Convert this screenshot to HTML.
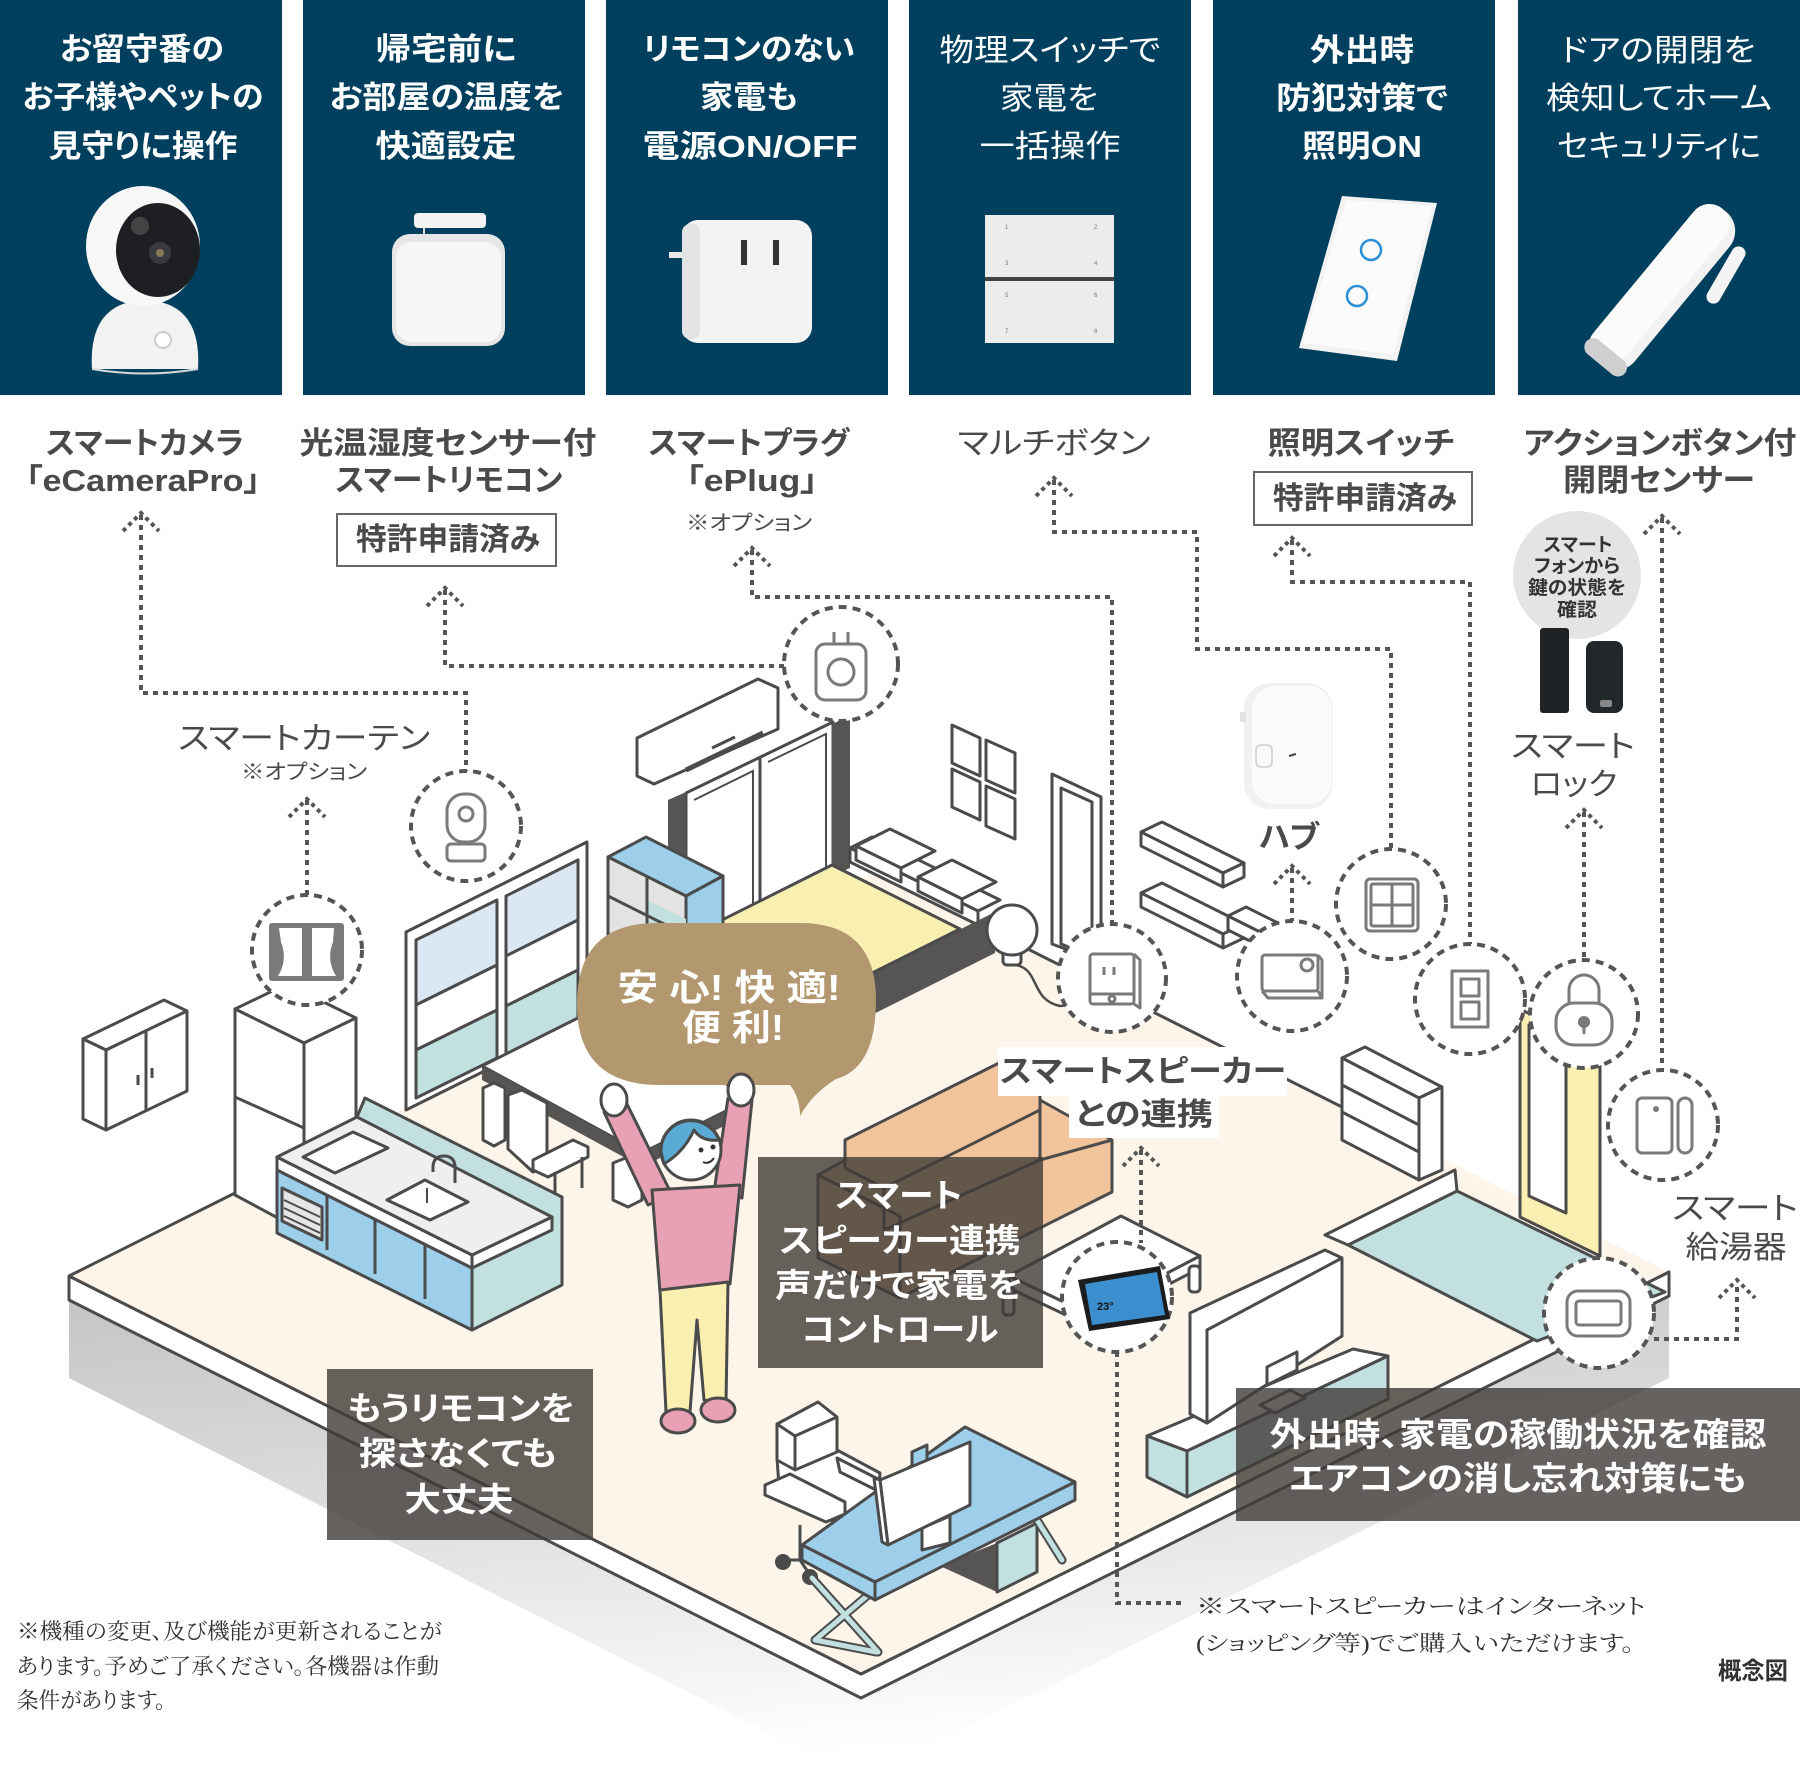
<!DOCTYPE html>
<html lang="ja"><head><meta charset="utf-8">
<style>
html,body{margin:0;padding:0;background:#fff;}
svg{display:block;}
text{font-family:"Liberation Sans","Noto Sans CJK JP",sans-serif;font-feature-settings:"palt";}
.pt{fill:#fff;font-size:31px;font-weight:700;text-anchor:middle;}
.pn{fill:#fff;font-size:31px;font-weight:400;text-anchor:middle;}
.lb{fill:#4a4a4a;font-size:31px;font-weight:700;text-anchor:middle;}
.ln{fill:#4a4a4a;font-size:31px;font-weight:400;text-anchor:middle;}
.sm{fill:#4a4a4a;font-size:21px;font-weight:400;text-anchor:middle;}
.bx{fill:#fff;font-size:33px;font-weight:700;text-anchor:middle;}
.sr{font-family:"Liberation Serif","Noto Serif CJK SC",serif;fill:#333;font-size:22px;}
.o{stroke:#4b4b4b;stroke-width:3;stroke-linejoin:round;}
.dl{fill:none;stroke:#555;stroke-width:4;stroke-dasharray:5 5;}
.ah{fill:none;stroke:#555;stroke-width:4;stroke-dasharray:4 4;}
.dc{fill:#fff;stroke:#555;stroke-width:4;stroke-dasharray:8 6;}
.ic{fill:none;stroke:#7a7a7a;stroke-width:3;stroke-linejoin:round;}
</style></head><body>
<svg width="1800" height="1780" viewBox="0 0 1800 1780" xmlns="http://www.w3.org/2000/svg">
<defs>
<linearGradient id="sh" x1="0" y1="0" x2="0.2" y2="1">
<stop offset="0" stop-color="#c4c4c4"/><stop offset="0.45" stop-color="#dcdcdc"/><stop offset="1" stop-color="#ffffff"/>
</linearGradient>
</defs>

<!-- ===== TOP PANELS ===== -->
<rect x="0" y="0" width="282" height="395" fill="#00405e"/>
<rect x="303" y="0" width="282" height="395" fill="#00405e"/>
<rect x="606" y="0" width="282" height="395" fill="#00405e"/>
<rect x="909" y="0" width="282" height="395" fill="#00405e"/>
<rect x="1213" y="0" width="282" height="395" fill="#00405e"/>
<rect x="1518" y="0" width="282" height="395" fill="#00405e"/>

<text class="pt" x="142" y="60" textLength="164" lengthAdjust="spacingAndGlyphs">お留守番の</text>
<text class="pt" x="143" y="108" textLength="241" lengthAdjust="spacingAndGlyphs">お子様やペットの</text>
<text class="pt" x="143" y="157" textLength="189" lengthAdjust="spacingAndGlyphs">見守りに操作</text>

<text class="pt" x="446" y="60" textLength="141" lengthAdjust="spacingAndGlyphs">帰宅前に</text>
<text class="pt" x="447" y="108" textLength="235" lengthAdjust="spacingAndGlyphs">お部屋の温度を</text>
<text class="pt" x="446" y="157" textLength="141" lengthAdjust="spacingAndGlyphs">快適設定</text>

<text class="pt" x="749" y="60" textLength="212" lengthAdjust="spacingAndGlyphs">リモコンのない</text>
<text class="pt" x="749" y="108" textLength="98" lengthAdjust="spacingAndGlyphs">家電も</text>
<text class="pt" x="750" y="157" textLength="215" lengthAdjust="spacingAndGlyphs">電源ON/OFF</text>

<text class="pn" x="1050" y="61" textLength="221" lengthAdjust="spacingAndGlyphs">物理スイッチで</text>
<text class="pn" x="1049" y="109" textLength="98" lengthAdjust="spacingAndGlyphs">家電を</text>
<text class="pn" x="1050" y="157" textLength="141" lengthAdjust="spacingAndGlyphs">一括操作</text>

<text class="pt" x="1362" y="61" textLength="104" lengthAdjust="spacingAndGlyphs">外出時</text>
<text class="pt" x="1362" y="109" textLength="172" lengthAdjust="spacingAndGlyphs">防犯対策で</text>
<text class="pt" x="1362" y="157" textLength="120" lengthAdjust="spacingAndGlyphs">照明ON</text>

<text class="pn" x="1658" y="61" textLength="195" lengthAdjust="spacingAndGlyphs">ドアの開閉を</text>
<text class="pn" x="1659" y="109" textLength="226" lengthAdjust="spacingAndGlyphs">検知してホーム</text>
<text class="pn" x="1659" y="157" textLength="204" lengthAdjust="spacingAndGlyphs">セキュリティに</text>

<!-- product: camera -->
<path d="M92,369 Q88,302 145,300 Q202,302 198,369 Z" fill="#f2f2f2"/>
<path d="M92,369 Q145,378 198,369" fill="none" stroke="#d8d8d8" stroke-width="2"/>
<circle cx="163" cy="340" r="8" fill="#fff" stroke="#ccc" stroke-width="2"/>
<ellipse cx="143" cy="246" rx="57" ry="60" fill="#f7f7f7"/>
<ellipse cx="158" cy="250" rx="42" ry="47" fill="#1e1f22"/>
<circle cx="160" cy="253" r="11" fill="#3a3a3e"/>
<circle cx="160" cy="253" r="4" fill="#8a7a5a"/>
<circle cx="140" cy="226" r="9" fill="#444"/>
<!-- product: remote sensor -->
<rect x="414" y="213" width="72" height="15" rx="4" fill="#f4f4f4"/>
<line x1="424" y1="228" x2="424" y2="240" stroke="#ddd" stroke-width="2"/>
<rect x="392" y="234" width="113" height="112" rx="18" fill="#e6e6e6"/>
<rect x="396" y="242" width="105" height="100" rx="16" fill="#f6f6f6"/>
<!-- product: plug -->
<rect x="669" y="252" width="15" height="6" fill="#e8e8e8"/>
<rect x="682" y="220" width="130" height="123" rx="16" fill="#f3f3f3"/>
<rect x="682" y="224" width="18" height="115" rx="8" fill="#e3e3e3"/>
<rect x="741" y="240" width="6" height="25" fill="#333"/>
<rect x="773" y="240" width="6" height="25" fill="#333"/>
<!-- product: multi button -->
<rect x="985" y="215" width="129" height="128" fill="#ececec"/>
<rect x="985" y="277" width="129" height="4" fill="#444"/>
<g fill="#777" font-size="6" font-family="Liberation Sans,sans-serif">
<text x="1005" y="229">1</text><text x="1094" y="229">2</text><text x="1005" y="265">3</text><text x="1094" y="265">4</text>
<text x="1005" y="297">5</text><text x="1094" y="297">6</text><text x="1005" y="333">7</text><text x="1094" y="333">8</text></g>
<!-- product: light switch -->
<polygon points="1342,196 1437,203 1397,361 1299,348" fill="#f2f2f2"/>
<polygon points="1346,200 1432,206 1393,354 1303,343" fill="#fbfbfb"/>
<circle cx="1371" cy="250" r="10" fill="none" stroke="#2a8fd6" stroke-width="2.5"/>
<circle cx="1357" cy="296" r="10" fill="none" stroke="#2a8fd6" stroke-width="2.5"/>
<!-- product: door sensor -->
<g transform="translate(1663,288) rotate(-50.4)">
<rect x="-99" y="-25" width="198" height="50" rx="25" fill="#f2f2f2"/>
<rect x="-99" y="-25" width="198" height="40" rx="20" fill="#fbfbfb"/>
<rect x="-99" y="-25" width="18" height="50" rx="9" fill="#cfcfcf"/>
</g>
<g transform="translate(1726,275) rotate(-60)">
<rect x="-32" y="-7" width="64" height="14" rx="7" fill="#f4f4f4"/>
</g>

<!-- product labels -->
<text class="lb" x="145" y="454" textLength="198" lengthAdjust="spacingAndGlyphs">スマートカメラ</text>
<text class="lb" x="143" y="491" textLength="235" lengthAdjust="spacingAndGlyphs">「eCameraPro」</text>
<text class="lb" x="448" y="454" textLength="297" lengthAdjust="spacingAndGlyphs">光温湿度センサー付</text>
<text class="lb" x="449" y="491" textLength="227" lengthAdjust="spacingAndGlyphs">スマートリモコン</text>
<rect x="337" y="514" width="219" height="52" fill="#fff" stroke="#666" stroke-width="2"/>
<text class="lb" x="448" y="550" font-size="29" textLength="184" lengthAdjust="spacingAndGlyphs">特許申請済み</text>
<text class="lb" x="749" y="454" textLength="201" lengthAdjust="spacingAndGlyphs">スマートプラグ</text>
<text class="lb" x="752" y="491" textLength="132" lengthAdjust="spacingAndGlyphs">「ePlug」</text>
<text class="sm" x="749" y="530" textLength="126" lengthAdjust="spacingAndGlyphs">※オプション</text>
<text class="ln" x="1054" y="454" textLength="193" lengthAdjust="spacingAndGlyphs">マルチボタン</text>
<text class="lb" x="1361" y="454" textLength="187" lengthAdjust="spacingAndGlyphs">照明スイッチ</text>
<rect x="1254" y="472" width="218" height="53" fill="#fff" stroke="#666" stroke-width="2"/>
<text class="lb" x="1365" y="509" font-size="29" textLength="184" lengthAdjust="spacingAndGlyphs">特許申請済み</text>
<text class="lb" x="1660" y="454" textLength="273" lengthAdjust="spacingAndGlyphs">アクションボタン付</text>
<text class="lb" x="1659" y="491" textLength="192" lengthAdjust="spacingAndGlyphs">開閉センサー</text>

<!-- ===== FLOOR ===== -->
<polygon points="69,1290 861,1690 1669,1288 1669,1378 861,1780 69,1378" fill="url(#sh)"/>
<polygon points="69,1276 861,1674 1669,1272 1669,1296 861,1698 69,1300" fill="#fff" class="o"/>
<polygon points="69,1276 874,872 1669,1272 861,1674" fill="#fdf5ea"/>
<polyline points="69,1276 861,1674 1669,1272" fill="none" class="o"/>
<line x1="69" y1="1276" x2="235" y2="1193" class="o"/>
<line x1="1000" y1="935" x2="1342" y2="1107" class="o"/>
<!-- genkan -->
<polygon points="1348,1245 1457,1191 1665,1292 1537,1341" fill="#c2e0df" class="o"/>
<polygon points="1325,1235 1455,1170 1457,1191 1348,1245" fill="#fff" class="o"/>

<!-- ===== BACK-LEFT WALL ITEMS ===== -->
<!-- wall cabinet -->
<polygon points="83,1039 164,1000 187,1011 106,1050" fill="#fff" class="o"/>
<polygon points="83,1039 106,1050 106,1130 83,1119" fill="#fff" class="o"/>
<polygon points="106,1050 187,1011 187,1091 106,1130" fill="#fff" class="o"/>
<line x1="146" y1="1031" x2="146" y2="1111" class="o"/>
<path d="M138,1075 v10 M152,1068 v10" class="o" fill="none"/>
<!-- glass doors -->
<polygon points="406,932 587,842 587,1020 406,1110" fill="#fff" class="o"/>
<polygon points="416,940 497,900 497,965 416,1005" fill="#dbe7f2" class="o"/>
<polygon points="416,1005 497,965 497,1010 416,1050" fill="#fff" class="o"/>
<polygon points="416,1050 497,1010 497,1058 416,1098" fill="#c2e0df" class="o"/>
<polygon points="506,896 578,860 578,920 506,956" fill="#dbe7f2" class="o"/>
<polygon points="506,956 578,920 578,970 506,1006" fill="#fff" class="o"/>
<polygon points="506,1006 578,970 578,1018 506,1054" fill="#c2e0df" class="o"/>
<!-- fridge -->
<polygon points="235,1009 287,984 356,1018 304,1043" fill="#fff" class="o"/>
<polygon points="235,1009 304,1043 304,1232 235,1195" fill="#fff" class="o"/>
<polygon points="304,1043 356,1018 356,1206 304,1232" fill="#fff" class="o"/>
<line x1="235" y1="1097" x2="304" y2="1128" class="o"/>
<!-- closet -->
<polygon points="686,793 833,722 833,880 686,952" fill="#fff" class="o"/>
<line x1="760" y1="757" x2="760" y2="916" class="o"/>
<polyline points="694,800 753,771 753,915" fill="none" stroke="#4b4b4b" stroke-width="2"/>
<polyline points="768,762 826,734 826,880" fill="none" stroke="#4b4b4b" stroke-width="2"/>
<polygon points="668,800 686,792 686,968 668,976" fill="#575553"/>
<polygon points="832,724 850,716 850,868 832,876" fill="#575553"/>
<!-- AC -->
<polygon points="637,738 758,679 778,688 778,729 654,784 637,776" fill="#fff" class="o"/>
<line x1="686" y1="770" x2="763" y2="733" stroke="#4b4b4b" stroke-width="5"/>
<line x1="712" y1="748" x2="735" y2="737" stroke="#4b4b4b" stroke-width="3"/>

<!-- ===== BACK-RIGHT WALL ITEMS ===== -->
<polygon points="952,725 980,738 980,776 952,763" fill="#fff" class="o"/>
<polygon points="986,740 1015,753 1015,793 986,780" fill="#fff" class="o"/>
<polygon points="952,769 980,782 980,820 952,807" fill="#fff" class="o"/>
<polygon points="986,786 1015,799 1015,839 986,826" fill="#fff" class="o"/>
<polygon points="1052,774 1101,797 1101,962 1052,944" fill="#fff" class="o"/>
<polygon points="1061,788 1092,802 1092,956 1061,944" fill="#fff" class="o"/>
<!-- shelves -->
<polygon points="1141,832 1162,822 1244,863 1223,873" fill="#fff" class="o"/>
<polygon points="1141,832 1223,873 1223,887 1141,846" fill="#fff" class="o"/>
<polygon points="1223,873 1244,863 1244,877 1223,887" fill="#fff" class="o"/>
<polygon points="1141,893 1162,883 1244,924 1223,934" fill="#fff" class="o"/>
<polygon points="1141,893 1223,934 1223,948 1141,907" fill="#fff" class="o"/>
<polygon points="1223,934 1244,924 1244,938 1223,948" fill="#fff" class="o"/>
<polygon points="1228,916 1246,907 1282,925 1264,934" fill="#fff" class="o"/>
<polygon points="1228,916 1264,934 1264,948 1228,930" fill="#fff" class="o"/>
<!-- hub photo -->
<rect x="1244" y="683" width="89" height="126" rx="26" fill="#f1f1f1"/>
<rect x="1252" y="686" width="80" height="118" rx="24" fill="#fbfbfb"/>
<rect x="1256" y="745" width="16" height="22" rx="5" fill="none" stroke="#ccc" stroke-width="1.5"/>
<rect x="1240" y="712" width="6" height="10" fill="#e3e3e3"/>
<line x1="1289" y1="756" x2="1296" y2="754" stroke="#444" stroke-width="2"/>
<!-- chest -->
<polygon points="1342,1058 1365,1047 1442,1087 1419,1098" fill="#fff" class="o"/>
<polygon points="1342,1058 1419,1098 1419,1180 1342,1140" fill="#fff" class="o"/>
<polygon points="1419,1098 1442,1087 1442,1170 1419,1180" fill="#fff" class="o"/>
<line x1="1342" y1="1085" x2="1419" y2="1125" class="o"/>
<line x1="1342" y1="1112" x2="1419" y2="1152" class="o"/>
<!-- yellow door -->
<polygon points="1520,1009 1600,1049 1600,1256 1520,1217" fill="#f8efb0" class="o"/>
<polygon points="1529,1025 1566,1043 1566,1213 1529,1196" fill="#fff" class="o"/>

<!-- ===== BED ===== -->
<polygon points="850,848 872,837 1000,900 978,911" fill="#fff" class="o"/>
<polygon points="850,848 978,911 978,925 850,862" fill="#fff" class="o"/>
<polygon points="856,846 890,829 935,851 901,868" fill="#fff" class="o"/>
<polygon points="856,846 901,868 901,882 856,860" fill="#fff" class="o"/>
<polygon points="918,877 952,860 996,882 962,899" fill="#fff" class="o"/>
<polygon points="918,877 962,899 962,913 918,891" fill="#fff" class="o"/>
<polygon points="718,1050 995,912 995,953 718,1092" fill="#575553"/>
<polygon points="590,986 718,1050 718,1092 590,1028" fill="#575553"/>
<polygon points="590,986 832,865 960,929 718,1050" fill="#f8efb0" class="o"/>
<!-- lamp -->
<path d="M1015,965 C1040,968 1030,1000 1060,1006 L1080,1004" fill="none" stroke="#4b4b4b" stroke-width="2.5"/>
<rect x="1003" y="950" width="18" height="15" rx="4" fill="#fff" class="o"/>
<circle cx="1012" cy="930" r="25" fill="#fff" class="o"/>

<!-- blue shelf -->
<polygon points="608,857 646,837 723,876 686,896" fill="#9dcfeb" class="o"/>
<polygon points="608,857 686,896 686,1012 608,972" fill="#e3e3e3" class="o"/>
<polygon points="686,896 723,876 723,992 686,1012" fill="#9dcfeb" class="o"/>
<polygon points="647,900 686,919 686,958 647,938" fill="#c2e0df"/>
<line x1="647" y1="876" x2="647" y2="992" class="o"/>
<line x1="608" y1="896" x2="686" y2="935" class="o"/>
<line x1="608" y1="934" x2="686" y2="974" class="o"/>

<!-- ===== DINING TABLE ===== -->
<polygon points="482,1066 592,1011 752,1098 642,1153" fill="#fff" class="o"/>
<polygon points="482,1066 642,1153 752,1098 752,1112 642,1167 482,1080" fill="#575553"/>
<polygon points="483,1088 494,1083 505,1088 505,1140 494,1146 483,1140" fill="#fff" class="o"/>
<polygon points="508,1095 522,1090 547,1103 547,1167 533,1172 508,1149" fill="#fff" class="o"/>
<polygon points="533,1160 573,1140 588,1147 588,1157 548,1177 533,1170" fill="#fff" class="o"/>
<path d="M582,1157 V1188 M555,1172 V1195" class="o" fill="none"/>
<polygon points="613,1163 628,1157 642,1164 642,1200 628,1207 613,1200" fill="#fff" class="o"/>

<!-- ===== KITCHEN ===== -->
<polygon points="357,1117 365,1098 562,1197 562,1285 472,1330 472,1255" fill="#c2e0df" class="o"/>
<polygon points="277,1170 472,1268 472,1330 277,1233" fill="#9dcfeb" class="o"/>
<polygon points="277,1157 472,1255 472,1268 277,1170" fill="#fff" class="o"/>
<polygon points="472,1255 552,1217 552,1230 472,1268" fill="#fff" class="o"/>
<polygon points="277,1157 357,1117 552,1217 472,1255" fill="#efefef" class="o"/>
<polygon points="303,1157 353,1132 388,1148 335,1173" fill="#fff" class="o"/>
<polygon points="387,1200 425,1180 468,1202 430,1220" fill="#fff" class="o"/>
<path d="M433,1172 V1166 Q434,1156 444,1156 Q454,1156 455,1166 V1183" fill="none" class="o"/>
<line x1="427" y1="1188" x2="427" y2="1203" stroke="#4b4b4b" stroke-width="2"/>
<line x1="327" y1="1195" x2="327" y2="1250" class="o"/>
<line x1="375" y1="1219" x2="375" y2="1274" class="o"/>
<line x1="425" y1="1244" x2="425" y2="1299" class="o"/>
<polygon points="282,1188 322,1207 322,1240 282,1221" fill="#e6e6e6" class="o"/>
<line x1="284" y1="1200" x2="320" y2="1217" stroke="#4b4b4b" stroke-width="2"/>
<line x1="284" y1="1208" x2="320" y2="1225" stroke="#4b4b4b" stroke-width="2"/>
<line x1="284" y1="1216" x2="320" y2="1233" stroke="#4b4b4b" stroke-width="2"/>

<!-- ===== SOFA ===== -->
<polygon points="818,1175 845,1160 1040,1100 1112,1140 1112,1192 900,1298 818,1258" fill="#f1c49b" class="o"/>
<polygon points="845,1140 1001,1062 1040,1082 1040,1110 884,1188 845,1168" fill="#f1c49b" class="o"/>
<polyline points="1040,1110 1040,1160 1112,1140" fill="none" class="o"/>
<polyline points="884,1188 884,1230 1040,1160" fill="none" class="o"/>
<line x1="818" y1="1175" x2="900" y2="1216" class="o"/>
<line x1="900" y1="1216" x2="900" y2="1298" class="o"/>

<!-- ===== SIDE TABLE ===== -->
<polygon points="1009,1276 1121,1216 1200,1256 1089,1314" fill="#fff" class="o"/>
<polygon points="1009,1276 1089,1314 1089,1326 1009,1288" fill="#fff" class="o"/>
<polygon points="1089,1314 1200,1256 1200,1268 1089,1326" fill="#fff" class="o"/>
<rect x="1003" y="1287" width="11" height="28" rx="4" fill="#fff" class="o"/>
<rect x="1189" y="1266" width="11" height="26" rx="4" fill="#fff" class="o"/>

<!-- ===== TV ===== -->
<polygon points="1147,1436 1353,1349 1388,1356 1187,1451" fill="#fff" class="o"/>
<polygon points="1147,1436 1187,1451 1187,1497 1147,1477" fill="#c2e0df" class="o"/>
<polygon points="1187,1451 1388,1356 1388,1399 1187,1497" fill="#c2e0df" class="o"/>
<polygon points="1190,1313 1325,1250 1342,1258 1342,1336 1207,1423 1190,1414" fill="#fff" class="o"/>
<polygon points="1207,1330 1342,1258 1342,1336 1207,1423" fill="#fff" class="o"/>
<polygon points="1267,1367 1297,1352 1297,1370 1267,1385" fill="#fff" class="o"/>
<polygon points="1260,1405 1290,1390 1305,1398 1275,1413" fill="#fff" class="o"/>

<!-- ===== CHAIR ===== -->
<line x1="800" y1="1525" x2="800" y2="1560" class="o"/>
<path d="M783,1560 H800 L810,1575" fill="none" class="o"/>
<circle cx="783" cy="1562" r="8" fill="#4b4b4b"/>
<circle cx="810" cy="1577" r="8" fill="#4b4b4b"/>
<polygon points="777,1458 837,1450 880,1473 878,1500 835,1522 780,1500" fill="#fff" class="o"/>
<polygon points="777,1424 818,1402 837,1417 837,1452 795,1470 777,1460" fill="#fff" class="o"/>
<line x1="777" y1="1424" x2="795" y2="1436" class="o"/>
<line x1="795" y1="1436" x2="795" y2="1470" class="o"/>
<line x1="795" y1="1436" x2="837" y2="1417" class="o"/>
<polygon points="837,1458 880,1480 880,1492 840,1472" fill="#fff" class="o"/>
<polygon points="765,1485 790,1474 845,1502 845,1514 826,1522 765,1495" fill="#fff" class="o"/>

<!-- ===== DESK ===== -->
<polygon points="940,1566 997,1543 997,1592" fill="#575553"/>
<polygon points="997,1543 1037,1523 1037,1572 997,1592" fill="#c2e0df" class="o"/>
<path d="M812,1578 L878,1652 M874,1590 L815,1640 L876,1652" fill="none" stroke="#4b4b4b" stroke-width="9" stroke-linecap="round" stroke-linejoin="round"/>
<path d="M812,1578 L878,1652 M874,1590 L815,1640 L876,1652" fill="none" stroke="#c2e0df" stroke-width="5" stroke-linecap="round" stroke-linejoin="round"/>
<path d="M1037,1520 L1062,1560" fill="none" stroke="#4b4b4b" stroke-width="9" stroke-linecap="round"/>
<path d="M1037,1520 L1062,1560" fill="none" stroke="#c2e0df" stroke-width="5" stroke-linecap="round"/>
<polygon points="802,1545 965,1427 1075,1482 875,1582" fill="#9dcfeb" class="o"/>
<polygon points="802,1545 875,1582 875,1600 802,1560" fill="#9dcfeb" class="o"/>
<polygon points="875,1582 1075,1482 1075,1500 875,1600" fill="#9dcfeb" class="o"/>
<polygon points="912,1452 927,1445 927,1462 912,1468" fill="#9dcfeb" class="o"/>
<polygon points="922,1528 950,1516 950,1543 922,1550" fill="#fff" class="o"/>
<polygon points="880,1480 970,1442 970,1505 888,1545" fill="#fff" class="o"/>
<polygon points="874,1478 880,1480 888,1545 882,1542" fill="#fff" class="o"/>

<!-- ===== SPEECH BUBBLE ===== -->
<path d="M657,923 H800 Q876,923 876,1000 Q876,1068 836,1079 Q812,1094 800,1116 Q800,1098 790,1085 H660 Q577,1085 577,1004 Q577,923 657,923 Z" fill="#b2976f"/>
<text x="729" y="1000" fill="#fff" font-size="36" font-weight="700" text-anchor="middle" textLength="223" lengthAdjust="spacingAndGlyphs">安 心! 快 適!</text>
<text x="733" y="1040" fill="#fff" font-size="36" font-weight="700" text-anchor="middle" textLength="102" lengthAdjust="spacingAndGlyphs">便 利!</text>

<!-- ===== PERSON ===== -->
<polygon points="648,1205 604,1112 626,1102 672,1195" fill="#e8a1b4" class="o"/>
<polygon points="714,1192 728,1098 752,1100 742,1198" fill="#e8a1b4" class="o"/>
<ellipse cx="614" cy="1100" rx="13" ry="16" fill="#fff" class="o"/>
<ellipse cx="741" cy="1090" rx="13" ry="16" fill="#fff" class="o"/>
<path d="M652,1190 L740,1185 L730,1284 L660,1292 Z" fill="#e8a1b4" class="o"/>
<path d="M660,1290 L728,1282 L726,1404 L704,1400 L697,1320 L690,1412 L666,1412 Z" fill="#f8efb0" class="o"/>
<ellipse cx="678" cy="1421" rx="17" ry="12" fill="#e8a1b4" class="o"/>
<ellipse cx="718" cy="1410" rx="17" ry="12" fill="#e8a1b4" class="o"/>
<circle cx="691" cy="1150" r="30" fill="#fff" class="o"/>
<path d="M661,1152 A30,30 0 0 1 719,1140 Q702,1142 694,1130 Q684,1152 664,1164 Z" fill="#5aaad6" class="o"/>
<circle cx="701" cy="1150" r="2.5" fill="#333"/><circle cx="713" cy="1147" r="2.5" fill="#333"/>
<path d="M703,1162 Q709,1165 714,1158" fill="none" stroke="#333" stroke-width="2"/>

<!-- ===== CONNECTOR LINES ===== -->
<path class="dl" d="M141,515 V693 H466 V771"/>
<path class="dl" d="M445,590 V666 H784"/>
<path class="dl" d="M752,550 V597 H1112 V923"/>
<path class="dl" d="M307,800 V895"/>
<path class="dl" d="M1054,480 V532 H1197 V649 H1391 V849"/>
<path class="dl" d="M1292,540 V582 H1470 V944"/>
<path class="dl" d="M1662,518 V1070"/>
<path class="dl" d="M1584,812 V959"/>
<path class="dl" d="M1292,868 V921"/>
<path class="dl" d="M1654,1339 H1737 V1282"/>
<path class="dl" d="M1141,1150 V1243"/>
<path class="dl" d="M1117,1352 V1603 H1185"/>
<!-- arrowheads -->
<polyline class="ah" points="123,531 141,513 159,531"/>
<polyline class="ah" points="427,606 445,588 463,606"/>
<polyline class="ah" points="734,566 752,548 770,566"/>
<polyline class="ah" points="289,817 307,799 325,817"/>
<polyline class="ah" points="1036,496 1054,478 1072,496"/>
<polyline class="ah" points="1274,556 1292,538 1310,556"/>
<polyline class="ah" points="1644,534 1662,516 1680,534"/>
<polyline class="ah" points="1566,828 1584,810 1602,828"/>
<polyline class="ah" points="1274,884 1292,866 1310,884"/>
<polyline class="ah" points="1719,1298 1737,1280 1755,1298"/>
<polyline class="ah" points="1123,1166 1141,1148 1159,1166"/>

<!-- ===== DASHED CIRCLES & ICONS ===== -->
<circle class="dc" cx="466" cy="826" r="55"/>
<rect class="ic" x="447" y="794" width="38" height="48" rx="17"/>
<circle class="ic" cx="466" cy="814" r="7"/>
<rect class="ic" x="447" y="844" width="38" height="17" rx="4"/>

<circle class="dc" cx="841" cy="664" r="57"/>
<rect class="ic" x="816" y="644" width="50" height="56" rx="9"/>
<circle class="ic" cx="841" cy="672" r="13"/>
<path class="ic" d="M834,632 V644 M848,632 V644"/>

<circle class="dc" cx="307" cy="950" r="55"/>
<rect x="269" y="923" width="75" height="58" rx="3" fill="#7a7a7a"/>
<path d="M279,928 H302 V976 H278 Q288,960 281,942 Z" fill="#fff"/>
<path d="M312,928 H334 L333,942 Q326,960 336,976 H312 Z" fill="#fff"/>

<circle class="dc" cx="1112" cy="978" r="54"/>
<rect class="ic" x="1090" y="954" width="44" height="50" rx="3"/>
<path class="ic" d="M1090,994 H1134 M1134,954 L1140,960 V1008 L1134,1004 M1104,967 v8 M1114,967 v8"/>
<circle class="ic" cx="1112" cy="999" r="3"/>

<circle class="dc" cx="1292" cy="976" r="55"/>
<rect class="ic" x="1262" y="955" width="56" height="36" rx="3"/>
<path class="ic" d="M1262,991 L1268,998 H1322 L1318,991 M1322,998 V960 L1318,955"/>
<circle class="ic" cx="1307" cy="965" r="6"/>

<circle class="dc" cx="1391" cy="904" r="55"/>
<rect class="ic" x="1366" y="879" width="52" height="52" rx="4"/>
<path class="ic" d="M1392,883 V927 M1370,905 H1414"/>
<rect class="ic" x="1371" y="884" width="42" height="42" rx="2"/>

<circle class="dc" cx="1470" cy="999" r="55"/>
<rect class="ic" x="1452" y="971" width="36" height="56"/>
<rect class="ic" x="1461" y="979" width="18" height="17"/>
<rect class="ic" x="1461" y="1002" width="18" height="17"/>

<circle class="dc" cx="1584" cy="1014" r="54"/>
<path class="ic" d="M1569,1003 V990 A15,15 0 0 1 1599,990 V1003"/>
<rect class="ic" x="1556" y="1003" width="56" height="42" rx="18"/>
<circle cx="1584" cy="1022" r="6" fill="#7a7a7a"/>
<line x1="1584" y1="1024" x2="1584" y2="1034" stroke="#7a7a7a" stroke-width="3"/>

<circle class="dc" cx="1663" cy="1125" r="55"/>
<rect class="ic" x="1637" y="1098" width="35" height="55" rx="5"/>
<rect class="ic" x="1678" y="1098" width="14" height="55" rx="7"/>
<circle cx="1656" cy="1109" r="3" fill="#7a7a7a"/>

<circle class="dc" cx="1599" cy="1313" r="55"/>
<rect class="ic" x="1567" y="1291" width="63" height="45" rx="11"/>
<rect class="ic" x="1576" y="1301" width="45" height="24" rx="3"/>

<circle class="dc" cx="1117" cy="1297" r="55"/>
<polygon points="1078,1280 1160,1266 1170,1319 1089,1331" fill="#1c1c1e"/>
<polygon points="1085,1284 1157,1272 1165,1315 1092,1325" fill="#3b8fcf"/>
<text x="1097" y="1310" fill="#111" font-size="11" font-weight="700">23°</text>

<!-- ===== SMART LOCK PHOTO ===== -->
<circle cx="1577" cy="575" r="64" fill="#e4e4e4"/>
<text x="1578" y="551" fill="#333" font-size="19" font-weight="700" text-anchor="middle" textLength="69" lengthAdjust="spacingAndGlyphs">スマート</text>
<text x="1577" y="572" fill="#333" font-size="19" font-weight="700" text-anchor="middle" textLength="86" lengthAdjust="spacingAndGlyphs">フォンから</text>
<text x="1577" y="594" fill="#333" font-size="19" font-weight="700" text-anchor="middle" textLength="98" lengthAdjust="spacingAndGlyphs">鍵の状態を</text>
<text x="1577" y="616" fill="#333" font-size="19" font-weight="700" text-anchor="middle" textLength="40" lengthAdjust="spacingAndGlyphs">確認</text>
<rect x="1540" y="628" width="29" height="85" rx="3" fill="#1f2326"/>
<rect x="1586" y="641" width="37" height="72" rx="8" fill="#22272a"/>
<rect x="1600" y="700" width="12" height="7" rx="2" fill="#888"/>

<!-- ===== SCENE LABELS ===== -->
<text class="ln" x="304" y="749" font-size="32" fill="#555" textLength="252" lengthAdjust="spacingAndGlyphs">スマートカーテン</text>
<text class="sm" x="304" y="779" fill="#555" textLength="126" lengthAdjust="spacingAndGlyphs">※オプション</text>
<text class="lb" x="1289" y="848" font-size="30" textLength="60" lengthAdjust="spacingAndGlyphs">ハブ</text>
<text class="ln" x="1573" y="757" font-size="32" fill="#555" textLength="124" lengthAdjust="spacingAndGlyphs">スマート</text>
<text class="ln" x="1574" y="795" font-size="32" fill="#555" textLength="87" lengthAdjust="spacingAndGlyphs">ロック</text>
<text class="ln" x="1735" y="1219" font-size="32" fill="#555" textLength="126" lengthAdjust="spacingAndGlyphs">スマート</text>
<text class="ln" x="1736" y="1258" font-size="32" fill="#555" textLength="101" lengthAdjust="spacingAndGlyphs">給湯器</text>
<rect x="998" y="1047" width="289" height="49" fill="#fff"/>
<rect x="1069" y="1094" width="150" height="44" fill="#fff"/>
<text class="lb" x="1143" y="1082" font-size="33" textLength="286" lengthAdjust="spacingAndGlyphs">スマートスピーカー</text>
<text class="lb" x="1144" y="1125" font-size="33" textLength="138" lengthAdjust="spacingAndGlyphs">との連携</text>

<!-- ===== DARK TEXT BOXES ===== -->
<rect x="758" y="1157" width="285" height="211" fill="rgba(64,59,55,0.8)"/>
<text class="bx" x="899" y="1207" textLength="127" lengthAdjust="spacingAndGlyphs">スマート</text>
<text class="bx" x="900" y="1252" textLength="241" lengthAdjust="spacingAndGlyphs">スピーカー連携</text>
<text class="bx" x="899" y="1297" textLength="248" lengthAdjust="spacingAndGlyphs">声だけで家電を</text>
<text class="bx" x="900" y="1341" textLength="197" lengthAdjust="spacingAndGlyphs">コントロール</text>

<rect x="327" y="1369" width="266" height="171" fill="rgba(64,59,55,0.8)"/>
<text class="bx" x="461" y="1420" textLength="227" lengthAdjust="spacingAndGlyphs">もうリモコンを</text>
<text class="bx" x="458" y="1465" textLength="198" lengthAdjust="spacingAndGlyphs">探さなくても</text>
<text class="bx" x="459" y="1511" textLength="109" lengthAdjust="spacingAndGlyphs">大丈夫</text>

<rect x="1236" y="1388" width="564" height="133" fill="rgba(64,59,55,0.8)"/>
<text class="bx" x="1518" y="1446" font-size="35" textLength="497" lengthAdjust="spacingAndGlyphs">外出時、家電の稼働状況を確認</text>
<text class="bx" x="1518" y="1490" font-size="35" textLength="457" lengthAdjust="spacingAndGlyphs">エアコンの消し忘れ対策にも</text>

<!-- ===== NOTES ===== -->
<text class="sr" x="1196" y="1614" font-size="26" textLength="450" lengthAdjust="spacingAndGlyphs">※スマートスピーカーはインターネット</text>
<text class="sr" x="1196" y="1651" font-size="26" textLength="439" lengthAdjust="spacingAndGlyphs">(ショッピング等)でご購入いただけます。</text>
<text class="sr" x="17" y="1639" textLength="425" lengthAdjust="spacingAndGlyphs">※機種の変更、及び機能が更新されることが</text>
<text class="sr" x="17" y="1674" textLength="422" lengthAdjust="spacingAndGlyphs">あります。予めご了承ください。各機器は作動</text>
<text class="sr" x="17" y="1708" textLength="149" lengthAdjust="spacingAndGlyphs">条件があります。</text>
<text x="1753" y="1679" fill="#333" font-size="24" font-weight="700" text-anchor="middle" textLength="70" lengthAdjust="spacingAndGlyphs">概念図</text>
</svg>
</body></html>
